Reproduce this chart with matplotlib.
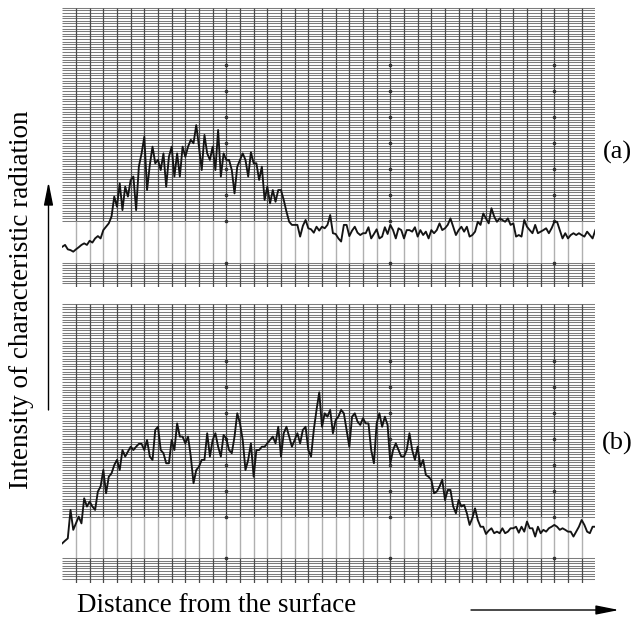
"""
Chart-recorder traces of characteristic X-ray intensity vs. distance from the
surface, drawn on ruled recorder paper, two samples (a) and (b).
"""
import numpy as np
import matplotlib
matplotlib.use("Agg")
import matplotlib.pyplot as plt

# scan position, in chart-paper divisions (one division = one vertical rule)
distance = np.round(np.arange(0, 39.01, 0.2), 1)

# recorded intensity, in large divisions above the paper's white strip
intensity_a = [
    -0.99, -0.92, -1.09, -1.12, -1.18, -1.09, -1.01, -0.92, -0.86, -0.92,
    -0.76, -0.83, -0.67, -0.58, -0.67, -0.35, -0.22, -0.09, 0.17, 0.94,
    0.55, 1.45, 0.42, 1.32, 0.94, 1.58, 1.71, 0.42, 2.09, 2.60,
    3.24, 1.19, 2.15, 2.86, 2.22, 2.35, 1.96, 2.60, 1.32, 2.47,
    2.86, 1.71, 2.60, 1.71, 2.86, 2.47, 2.86, 3.12, 2.99, 3.69,
    2.86, 1.96, 3.31, 2.60, 2.35, 2.86, 1.96, 3.50, 1.71, 2.60,
    2.35, 2.35, 1.96, 1.06, 2.09, 2.35,
    2.60, 2.35, 1.71, 2.64, 2.22, 2.22, 1.58, 2.09, 0.81, 1.32,
    0.68, 1.19, 0.74, 1.19, 1.19, 0.81, 0.36, -0.03, -0.15, -0.15,
    -0.15, -0.60, -0.19, 0.04, -0.28, -0.32, -0.45, -0.22, -0.37, -0.22,
    -0.28, -0.15, 0.23, -0.47, -0.50, -0.67, -0.79, -0.15, -0.15, -0.58,
    -0.37, -0.22, -0.45, -0.54, -0.47, -0.47, -0.24, -0.67, -0.50, -0.32,
    -0.67, -0.60, -0.24, -0.50, -0.15, -0.35, -0.67, -0.28, -0.35, -0.67,
    -0.35, -0.35, -0.41, -0.24,
    -0.60, -0.35, -0.54, -0.41, -0.67, -0.35, -0.47, -0.35, -0.09, -0.35,
    -0.28, -0.15, 0.10, -0.22, -0.54, -0.35, -0.22, -0.41, -0.22, -0.60,
    -0.54, -0.41, -0.03, -0.15, 0.29, 0.10, -0.09, 0.49, 0.17, -0.03,
    0.10, 0.04, -0.03, 0.10, -0.15, -0.09, -0.60, -0.54, -0.60, 0.04,
    -0.22, -0.35, -0.47, -0.15, -0.47, -0.41, -0.35, -0.28, -0.47, -0.28,
    -0.03, -0.03, -0.35, -0.67, -0.47, -0.67, -0.54, -0.47, -0.54, -0.47,
    -0.54, -0.60, -0.41, -0.54, -0.67, -0.35,
]

intensity_b = [
    -1.03, -0.93, -0.84, 0.26, -0.51, -0.26, 0.00, -0.26, 0.71, 0.39,
    0.58, 0.39, 0.26, 0.97, 1.16, 1.80, 0.90, 1.54, 1.67, 1.99,
    2.19, 1.80, 2.57, 2.32, 2.51, 2.70, 2.57, 2.70, 2.81, 2.81,
    2.57, 2.96, 2.32, 2.19, 3.35, 3.47, 2.57, 2.45, 2.06, 2.06,
    2.96, 2.57, 3.60, 3.09, 3.09, 2.83, 3.09, 2.32, 1.29, 1.80,
    1.93, 2.19, 2.19, 3.22, 2.32, 2.96, 3.22, 2.70, 2.32, 3.15,
    3.02, 2.57, 2.45, 3.09, 3.99, 3.60,
    2.96, 1.80, 2.19, 2.83, 1.54, 2.57, 2.57, 2.70, 2.70, 2.83,
    2.96, 3.09, 2.83, 3.47, 2.32, 3.22, 3.47, 3.09, 2.70, 2.96,
    3.22, 2.83, 3.35, 3.47, 2.57, 2.32, 3.35, 4.12, 4.80, 3.47,
    3.99, 3.86, 4.12, 3.22, 3.73, 3.86, 4.12, 3.99, 3.35, 2.70,
    3.86, 3.99, 3.67, 3.54, 3.80, 3.60, 3.60, 2.57, 2.06, 3.60,
    3.99, 3.47, 3.86, 3.54, 2.06, 2.57, 2.83, 2.57, 2.32, 2.32,
    2.57, 3.22, 2.57, 2.19,
    2.70, 1.93, 2.19, 1.61, 1.54, 1.42, 0.90, 0.97, 1.16, 1.42,
    0.64, 1.03, 1.03, 0.39, 0.13, 0.64, 0.39, 0.45, 0.13, -0.32,
    -0.06, 0.32, -0.13, -0.39, -0.39, -0.67, -0.54, -0.45, -0.64, -0.58,
    -0.64, -0.45, -0.64, -0.58, -0.45, -0.45, -0.39, -0.62, -0.39, -0.58,
    -0.19, -0.45, -0.45, -0.77, -0.39, -0.64, -0.51, -0.58, -0.45, -0.39,
    -0.32, -0.39, -0.51, -0.45, -0.51, -0.58, -0.58, -0.77, -0.58, -0.39,
    -0.13, -0.32, -0.58, -0.64, -0.39, -0.39,
]

panel_labels = ["(a)", "(b)"]
x_label = "Distance from the surface"
y_label = "Intensity of characteristic radiation"

plt.rcParams["font.family"] = ["Liberation Serif", "DejaVu Serif"]

fig = plt.figure(figsize=(6.34, 6.27), dpi=100)


def chart_paper(ax):
    # ruled recorder paper: fine horizontal rules with a blank strip near zero
    upper = np.arange(0, 8.21, 0.1)
    lower = np.arange(-2.4, -1.59, 0.1)
    ax.hlines(upper, 0, 39, color="#7c7c7c", lw=0.75, zorder=1)
    ax.hlines(lower, 0, 39, color="#7c7c7c", lw=0.75, zorder=1)
    cols = np.arange(1, 39)
    ax.vlines(cols, 0, 8.2, color="#4a4a4a", lw=0.9, zorder=2)
    ax.vlines(cols, -1.6, 0, color="#b0b0b0", lw=1.0, zorder=2)
    ax.vlines(cols, -2.55, -1.6, color="#4a4a4a", lw=0.9, zorder=2)
    dots = [-1.6, 0, 1, 2, 3, 4, 5, 6]
    for c in (12, 24, 36):
        ax.plot([c] * len(dots), dots, "o", ms=1.6, color="#333333", zorder=3)
    ax.set_xlim(0, 39)
    ax.set_ylim(-2.55, 8.25)
    ax.axis("off")


ax_a = fig.add_axes([0.0983, 0.5418, 0.8407, 0.4478])
ax_b = fig.add_axes([0.0983, 0.0707, 0.8407, 0.4461])

for ax, trace, lab, ypos in [(ax_a, intensity_a, panel_labels[0], 152),
                             (ax_b, intensity_b, panel_labels[1], 443)]:
    chart_paper(ax)
    ax.plot(distance, trace, color="#141414", lw=1.35, zorder=4)
    fig.text(617 / 634, 1 - ypos / 627, lab, fontsize=19, ha="center", va="center")

# axis captions with direction arrows
fig.text(77 / 634, 1 - 606 / 627, x_label, fontsize=19.5, ha="left", va="center")
fig.text(22 / 634, 1 - 300 / 627, y_label, fontsize=19.5, rotation=90,
         ha="center", va="center")

arrow = dict(arrowstyle="-|>,head_length=1.0,head_width=0.2", color="black",
             lw=1.0, mutation_scale=14, shrinkA=0, shrinkB=0)
fig.add_artist(matplotlib.patches.FancyArrowPatch(
    (471 / 634, 1 - 610 / 627), (619 / 634, 1 - 610 / 627),
    transform=fig.transFigure, **arrow))
fig.add_artist(matplotlib.patches.FancyArrowPatch(
    (48.5 / 634, 1 - 410 / 627), (48.5 / 634, 1 - 182 / 627),
    transform=fig.transFigure, **arrow))

fig.savefig("out.png", dpi=100, facecolor="white")
